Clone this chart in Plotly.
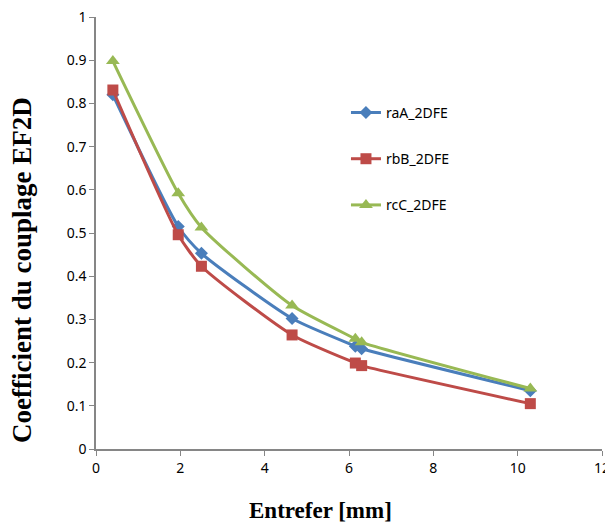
import plotly.graph_objects as go

entrefer = [0.4, 1.95, 2.5, 4.65, 6.15, 6.3, 10.3]
raA_2DFE = [0.820, 0.515, 0.453, 0.302, 0.238, 0.232, 0.135]
rbB_2DFE = [0.831, 0.496, 0.423, 0.264, 0.199, 0.193, 0.105]
rcC_2DFE = [0.898, 0.592, 0.513, 0.332, 0.255, 0.247, 0.140]

series = [
    ("raA_2DFE", raA_2DFE, "#4A7EBB", "diamond", 10),
    ("rbB_2DFE", rbB_2DFE, "#BE4B48", "square", 11),
    ("rcC_2DFE", rcC_2DFE, "#98B954", "triangle-up", 12),
]

fig = go.Figure()
for i, (name, ys, col, sym, sz) in enumerate(series):
    fig.add_trace(go.Scatter(
        x=entrefer, y=ys, name=name, mode="lines+markers",
        line=dict(color=col, width=3, shape="spline", smoothing=0.6),
        marker=dict(symbol=sym, size=sz, color=col),
        legendgroup=f"g{i}",
    ))

fig.update_layout(
    width=605, height=514,
    margin=dict(l=88, r=11, t=9, b=73, autoexpand=False),
    plot_bgcolor="white", paper_bgcolor="white",
    font=dict(family="Noto Sans", size=14, color="#000"),
    showlegend=True,
    legend=dict(x=0.494, y=0.815, xanchor="left", yanchor="top",
                traceorder="grouped", tracegroupgap=25,
                font=dict(family="Noto Sans", size=14),
                bgcolor="rgba(0,0,0,0)"),
    xaxis=dict(range=[0, 12], dtick=2, showline=True, linecolor="#868686",
               linewidth=1.5, ticks="outside", ticklen=5, tickcolor="#868686",
               showgrid=False, zeroline=False, automargin=False,
               ticklabeloverflow="allow"),
    yaxis=dict(range=[0, 1], dtick=0.1, showline=True, linecolor="#868686",
               linewidth=1.5, ticks="outside", ticklen=5, tickcolor="#868686",
               showgrid=False, zeroline=False, automargin=False,
               ticklabeloverflow="allow"),
    annotations=[
        dict(text="<b>Entrefer [mm]</b>", xref="paper", yref="paper",
             x=(320 - 96) / 506, y=-(510 - 449) / 432, xanchor="center",
             yanchor="middle", showarrow=False,
             font=dict(family="Liberation Serif", size=23)),
        dict(text="<b>Coefficient du couplage EF2D</b>", xref="paper",
             yref="paper", x=-(96 - 22) / 506, y=(449 - 270) / 432,
             xanchor="center", yanchor="middle", textangle=-90,
             showarrow=False,
             font=dict(family="Liberation Serif", size=27)),
    ],
)

fig.write_html("out.html")
